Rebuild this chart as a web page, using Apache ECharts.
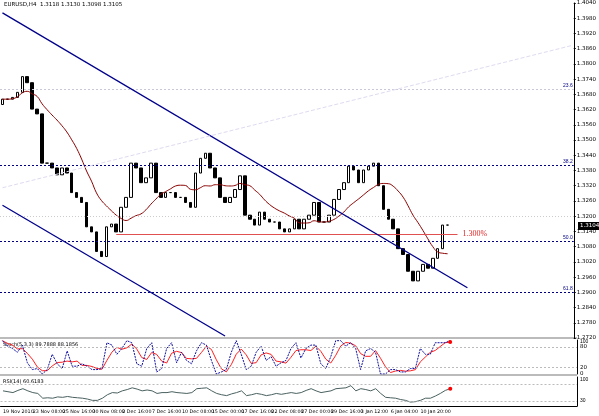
<!DOCTYPE html>
<html>
<head>
<meta charset="utf-8">
<script src="https://cdn.jsdelivr.net/npm/echarts@6/dist/echarts.min.js"></script>
<style>
  html, body { margin: 0; padding: 0; background: #fff; }
  #main { width: 599px; height: 416px; }
</style>
</head>
<body>
<div id="main"></div>
<script>
// closes, one per ~5px column (about two H4 bars)
const closes = [
  1.3661, 1.3661, 1.3668, 1.3688, 1.3750, 1.3726, 1.3622, 1.3603, 1.3409, 1.3409,
  1.3390, 1.3363, 1.3390, 1.3370, 1.3293, 1.3274, 1.3254, 1.3158, 1.3138, 1.3061,
  1.3041, 1.3158, 1.3169, 1.3138, 1.3235, 1.3274, 1.3409, 1.3390, 1.3332, 1.3351,
  1.3409, 1.3293, 1.3274, 1.3293, 1.3293, 1.3274, 1.3274, 1.3254, 1.3235, 1.3370,
  1.3428, 1.3448, 1.3390, 1.3351, 1.3274, 1.3254, 1.3274, 1.3305, 1.3359, 1.3204,
  1.3188, 1.3165, 1.3216, 1.3188, 1.3177, 1.3177, 1.3150, 1.3138, 1.3150, 1.3188,
  1.3150, 1.3188, 1.3204, 1.3254, 1.3177, 1.3177, 1.3204, 1.3266, 1.3305, 1.3332,
  1.3397, 1.3382, 1.3332, 1.3382, 1.3397, 1.3409, 1.3320, 1.3227, 1.3188, 1.3150,
  1.3072, 1.3049, 1.2983, 1.2945, 1.2983, 1.3010, 1.2995, 1.3034, 1.3072, 1.3165,
  1.3165
];
const stochMain = [
  98, 82, 75, 64, 85, 33, 13, 16, 0, 13, 58, 30, 16, 68, 23, 23, 30, 23, 13, 13,
  16, 92, 85, 58, 75, 98, 92, 30, 23, 75, 92, 6, 16, 75, 92, 33, 64, 40, 30, 68,
  92, 85, 40, 0, 6, 13, 64, 98, 58, 13, 23, 64, 82, 40, 51, 23, 33, 40, 75, 92,
  47, 75, 85, 85, 30, 16, 51, 98, 98, 82, 92, 75, 13, 68, 75, 64, 0, 0, 13, 13,
  6, 6, 16, 16, 75, 58, 58, 92, 92, 92, 98
];
const rsiValues = [
  54, 52, 50, 55, 59, 54, 50, 48, 37, 38, 37, 40, 39, 41, 39, 38, 37, 35, 32, 32,
  37, 45, 50, 49, 54, 57, 61, 58, 54, 56, 54, 48, 50, 50, 52, 50, 49, 48, 50, 59,
  60, 61, 54, 48, 45, 43, 47, 50, 54, 43, 45, 48, 46, 43, 45, 48, 46, 48, 50, 48,
  50, 55, 59, 54, 50, 52, 54, 59, 60, 61, 66, 54, 59, 57, 54, 59, 48, 39, 38, 37,
  34, 32, 28, 29, 32, 37, 37, 42, 48, 55, 59
];
const tickLabels = [
  '19 Nov 2010', '23 Nov 08:00', '25 Nov 16:00', '30 Nov 08:00', '2 Dec 16:00',
  '7 Dec 16:00', '10 Dec 08:00', '15 Dec 00:00', '17 Dec 16:00', '22 Dec 08:00',
  '27 Dec 00:00', '29 Dec 16:00', '3 Jan 12:00', '6 Jan 04:00', '10 Jan 20:00',
  '', '', '', '', ''
];
// fibonacci levels and their names
const fibLevels = [1.3738, 1.3397, 1.3130, 1.2867];
const fibNames = ['23.6', '38.2', '50.0', '61.8'];
// trend lines: [category index, price] end points
const upperChannel = [[0, 1.4001], [94, 1.2918]];
const lowerChannel = [[0, 1.3243], [45, 1.2728]];
const fanLine = [[0, 1.3312], [115, 1.3872]];

const nCats = 116;
const cats = [];
for (let i = 0; i < nCats; i++) cats.push(i % 6 === 0 ? (tickLabels[i / 6] || '') : '');

const candles = closes.map((c, i) => {
  const o = i === 0 ? 1.3640 : closes[i - 1];
  return [o, c, Math.min(o, c), Math.max(o, c)];
});
// moving average of the closes
const ma = closes.map((c, i) => {
  const w = closes.slice(Math.max(0, i - 11), i + 1);
  return +(w.reduce((a, b) => a + b, 0) / w.length).toFixed(4);
});
const stochSignal = stochMain.map((v, i) => {
  const w = stochMain.slice(Math.max(0, i - 2), i + 1);
  return +(w.reduce((a, b) => a + b, 0) / w.length).toFixed(1);
});
const last = closes.length - 1;

const chart = echarts.init(document.getElementById('main'));
const small = { fontSize: 5.5, color: '#000', fontFamily: 'DejaVu Sans' };
const xBase = { type: 'category', data: cats, boundaryGap: true, axisTick: { show: false }, axisLabel: { show: false }, axisLine: { show: false } };

chart.setOption({
  animation: false,
  backgroundColor: '#fff',
  grid: [
    { left: 0, right: 22, top: 0, height: 338 },
    { left: 0, right: 22, top: 340, height: 34 },
    { left: 0, right: 22, top: 377, height: 29 }
  ],
  xAxis: [
    Object.assign({ gridIndex: 0 }, xBase),
    Object.assign({ gridIndex: 1 }, xBase),
    Object.assign({ gridIndex: 2 }, xBase, {
      axisLine: { show: true, lineStyle: { color: '#000' } },
      axisLabel: { show: true, interval: 0, align: 'left', margin: 3, fontSize: 4.8, color: '#000', fontFamily: 'DejaVu Sans' }
    })
  ],
  yAxis: [
    { gridIndex: 0, position: 'right', min: 1.272, max: 1.404, interval: 0.006, scale: true,
      axisLine: { show: true, lineStyle: { color: '#000' } }, axisTick: { show: true, length: 2, inside: false },
      splitLine: { show: false }, axisLabel: Object.assign({ formatter: v => v.toFixed(4), margin: 3 }, small) },
    { gridIndex: 1, position: 'right', min: 0, max: 100, interval: 10,
      axisLine: { show: true, lineStyle: { color: '#000' } }, axisTick: { show: false }, splitLine: { show: false },
      axisLabel: Object.assign({ formatter: v => ([0, 20, 80].includes(v) ? String(v) : ''), margin: 3 }, small) },
    { gridIndex: 2, position: 'right', min: 19, max: 86,
      axisLine: { show: true, lineStyle: { color: '#000' } }, axisTick: { show: false }, splitLine: { show: false },
      axisLabel: { show: false } }
  ],
  graphic: [
    { type: 'text', left: 4, top: 2, style: { text: 'EURUSD,H4  1.3118 1.3130 1.3098 1.3105', fontSize: 5.5, fill: '#000', fontFamily: 'DejaVu Sans' } },
    { type: 'text', left: 3, top: 342, style: { text: 'Stoch(5,3,3) 89.7888 88.1856', fontSize: 5, fill: '#000', fontFamily: 'DejaVu Sans' } },
    { type: 'text', left: 3, top: 379, style: { text: 'RSI(14) 60.6183', fontSize: 5, fill: '#000', fontFamily: 'DejaVu Sans' } },
    { type: 'rect', left: 0, top: 337, shape: { width: 577, height: 2 }, style: { fill: '#bbb' } },
    { type: 'rect', left: 0, top: 374, shape: { width: 577, height: 2 }, style: { fill: '#bbb' } },
    { type: 'rect', left: 578, top: 222, shape: { width: 21, height: 8 }, style: { fill: '#000' } },
    { type: 'text', left: 580, top: 223, style: { text: '1.3104', fontSize: 5.5, fill: '#fff', fontFamily: 'DejaVu Sans' } },
    { type: 'text', left: 580, top: 339, style: { text: '100', fontSize: 5, fill: '#000' } },
    { type: 'text', left: 580, top: 377, style: { text: '100', fontSize: 5, fill: '#000' } },
    { type: 'text', left: 580, top: 398, style: { text: '30', fontSize: 5, fill: '#000' } }
  ],
  series: [
    {
      type: 'candlestick', xAxisIndex: 0, yAxisIndex: 0, data: candles, barWidth: 3,
      itemStyle: { color: '#fff', borderColor: '#000', color0: '#000', borderColor0: '#000', borderWidth: 1 },
      markLine: {
        silent: true, symbol: 'none',
        data: fibLevels.map((lv, i) => ({
          yAxis: lv,
          lineStyle: { color: i === 0 ? '#c8c8d8' : '#000080', type: [2, 2], width: 1 },
          label: { formatter: fibNames[i], position: 'insideEndTop', fontSize: 5, color: '#000080', distance: 1 }
        })).concat([
          { yAxis: closes[last] + 0.0010, lineStyle: { color: '#ccc', type: [1, 2], width: 1 }, label: { show: false } },
          [{ coord: [23, fibLevels[2]], lineStyle: { color: '#e05050', type: 'solid', width: 1 },
             label: { formatter: '1.300%', position: 'end', color: '#e02020', fontSize: 8, fontFamily: 'Liberation Serif' } },
           { coord: [92, fibLevels[2]] }],
          [{ coord: upperChannel[0], lineStyle: { color: '#00008b', type: 'solid', width: 1.3 }, label: { show: false } }, { coord: upperChannel[1] }],
          [{ coord: lowerChannel[0], lineStyle: { color: '#00008b', type: 'solid', width: 1.3 }, label: { show: false } }, { coord: lowerChannel[1] }],
          [{ coord: fanLine[0], lineStyle: { color: '#e0daf0', type: [4, 2], width: 1 }, label: { show: false } }, { coord: fanLine[1] }]
        ])
      }
    },
    { type: 'line', xAxisIndex: 0, yAxisIndex: 0, data: ma, showSymbol: false, smooth: true,
      lineStyle: { color: '#8b0000', width: 1 } },
    { type: 'line', xAxisIndex: 1, yAxisIndex: 1, data: stochSignal, showSymbol: false,
      lineStyle: { color: '#ff2020', width: 1 },
      markLine: { silent: true, symbol: 'none', label: { show: false },
        lineStyle: { color: '#bbb', type: [2, 2], width: 1 }, data: [{ yAxis: 20 }, { yAxis: 80 }] },
      markPoint: { symbol: 'circle', symbolSize: 4, itemStyle: { color: '#ff0000' }, label: { show: false },
        data: [{ coord: [last, stochSignal[last]] }] } },
    { type: 'line', xAxisIndex: 1, yAxisIndex: 1, data: stochMain, showSymbol: false,
      lineStyle: { color: '#1010a0', width: 1, type: [2, 1] } },
    { type: 'line', xAxisIndex: 2, yAxisIndex: 2, data: rsiValues, showSymbol: false,
      lineStyle: { color: '#4a6060', width: 1 },
      markLine: { silent: true, symbol: 'none', label: { show: false },
        lineStyle: { color: '#bbb', type: [2, 2], width: 1 }, data: [{ yAxis: 70 }, { yAxis: 30 }] },
      markPoint: { symbol: 'circle', symbolSize: 4, itemStyle: { color: '#ff0000' }, label: { show: false },
        data: [{ coord: [last, rsiValues[last]] }] } }
  ]
});
</script>
</body>
</html>
